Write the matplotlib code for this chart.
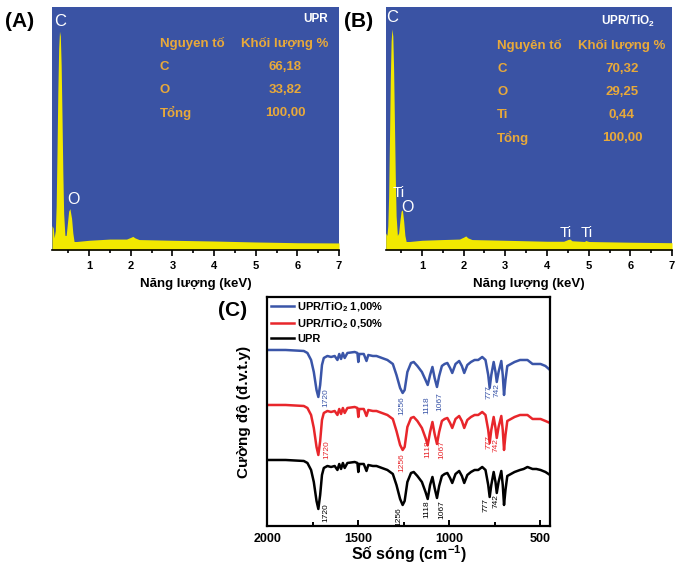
import matplotlib
matplotlib.use("Agg")
import matplotlib.pyplot as plt
from matplotlib.ticker import MultipleLocator

plt.rcParams["font.family"] = ["Liberation Sans", "DejaVu Sans"]
plt.rcParams["mathtext.fontset"] = "custom"
plt.rcParams["mathtext.rm"] = "Liberation Sans"
plt.rcParams["mathtext.bf"] = "Liberation Sans:bold"

# ---------- EDS data (keV, counts in % of full scale) ----------
kev_upr = [0.11, 0.14, 0.16, 0.19, 0.21, 0.23, 0.25, 0.27, 0.29, 0.31, 0.33, 0.35,
           0.37, 0.39, 0.42, 0.45, 0.48, 0.51, 0.54, 0.58, 0.61, 0.64, 0.70, 1.0,
           1.5, 1.9, 2.0, 2.05, 2.1, 2.2, 3.0, 4.0, 5.0, 6.0, 7.0]
cnt_upr = [10, 9, 5, 8, 18, 40, 65, 83, 90, 88, 76, 55,
           32, 15, 6, 6, 11, 16, 17, 13, 7, 3.5, 3.5, 4,
           4.5, 4.5, 5.2, 5.6, 5, 4.3, 4, 3.7, 3.3, 3.0, 2.9]

kev_tio2 = [0.13, 0.16, 0.18, 0.20, 0.22, 0.24, 0.26, 0.28, 0.30, 0.32, 0.34, 0.36,
            0.38, 0.41, 0.44, 0.47, 0.50, 0.53, 0.56, 0.59, 0.62, 0.70, 1.0, 1.5,
            1.9, 2.0, 2.05, 2.1, 2.2, 3.0, 4.0, 4.4, 4.5, 4.55, 4.6, 4.9, 4.93,
            5.0, 6.0, 7.0]
cnt_tio2 = [7, 6, 10, 22, 45, 70, 86, 91, 88, 74, 52, 30,
            14, 6, 7, 12, 16, 16.5, 12, 6, 3.5, 3.5, 4, 4.3,
            4.5, 5.3, 5.8, 5, 4.3, 4, 3.6, 3.6, 4.3, 4.5, 3.8, 3.5, 3.9,
            3.5, 3.2, 3.0]

elements_upr = ["C", "O", "Tổng"]
mass_upr = ["66,18", "33,82", "100,00"]
elements_tio2 = ["C", "O", "Ti", "Tổng"]
mass_tio2 = ["70,32", "29,25", "0,44", "100,00"]

# ---------- FTIR data ----------
wavenumber = [2000, 1900, 1800, 1780, 1760, 1745, 1730, 1720, 1710, 1700,
              1690, 1670, 1650, 1630, 1615, 1605, 1595, 1585, 1575, 1560,
              1520, 1505, 1500, 1495, 1470, 1455, 1445, 1420, 1400, 1370,
              1340, 1310, 1290, 1270, 1256, 1245, 1230, 1210, 1195, 1175,
              1150, 1130, 1118, 1105, 1092, 1080, 1067, 1055, 1040, 1025,
              1010, 995, 983, 965, 945, 930, 917, 900, 880, 860,
              840, 818, 800, 785, 777, 768, 755, 745, 738, 728,
              713, 705, 698, 690, 680, 660, 640, 610, 590, 569,
              555, 541, 520, 497, 470, 445]
ir_tio2_100 = [176, 176, 175, 173, 166, 154, 136, 129, 141, 161,
               168, 170, 169, 170, 166, 172, 167, 173, 168, 173,
               174, 173, 164, 172, 172, 165, 171, 170, 170, 168,
               166, 162, 151, 138, 133, 136, 154, 163, 164, 160,
               154, 146, 141, 151, 159, 148, 139, 150, 160, 162,
               163, 158, 153, 162, 165, 160, 153, 161, 164, 166,
               166, 169, 166, 151, 138, 151, 164, 154, 144, 154,
               165, 151, 131, 146, 160, 162, 164, 166, 166, 166,
               164, 162, 162, 162, 160, 156]
ir_tio2_050 = [121, 121, 120, 118, 111, 98, 79, 71, 85, 106,
               113, 115, 114, 115, 111, 117, 112, 118, 113, 118,
               119, 118, 109, 117, 117, 110, 116, 115, 115, 113,
               111, 107, 95, 81, 76, 79, 99, 108, 109, 105,
               98, 88, 81, 94, 104, 92, 82, 94, 105, 107,
               108, 103, 98, 107, 110, 105, 98, 106, 109, 111,
               111, 114, 111, 96, 83, 96, 109, 98, 88, 99,
               110, 96, 76, 91, 105, 107, 109, 111, 111, 111,
               109, 107, 107, 107, 105, 103]
ir_upr = [66, 66, 65, 63, 56, 44, 25, 17, 31, 51,
          58, 60, 59, 60, 56, 62, 57, 63, 58, 63,
          64, 63, 54, 62, 62, 55, 61, 60, 60, 58,
          56, 52, 41, 27, 21, 25, 44, 53, 54, 50,
          44, 34, 27, 41, 49, 38, 28, 40, 50, 52,
          53, 48, 43, 52, 55, 50, 43, 51, 54, 56,
          56, 59, 56, 41, 29, 41, 54, 44, 33, 44,
          55, 41, 21, 36, 50, 52, 54, 56, 57, 59,
          58, 57, 57, 56, 54, 51]
peak_names = ["1720", "1256", "1118", "1067", "777", "742"]

BG = "#3A53A4"
YEL = "#F2E800"
GOLD = "#E8A93A"

fig = plt.figure(figsize=(6.78, 5.66), dpi=100)


def eds_panel(rect, kev, cnt, xmin, title, header, elements, mass, row_y, x_vals):
    ax = fig.add_axes(rect)
    ax.set_facecolor(BG)
    ax.fill_between(kev, cnt, 0, color=YEL, lw=0)
    ax.set_xlim(xmin, 7)
    ax.set_ylim(0, 100)
    for s in ["left", "top", "right"]:
        ax.spines[s].set_visible(False)
    ax.spines["bottom"].set_linewidth(1.2)
    ax.set_yticks([])
    ax.xaxis.set_major_locator(MultipleLocator(1))
    ax.xaxis.set_minor_locator(MultipleLocator(0.5))
    ax.tick_params(axis="x", which="major", length=4, width=1.2, labelsize=8, pad=4)
    ax.tick_params(axis="x", which="minor", length=2.5, width=1.2)
    for lab in ax.get_xticklabels():
        lab.set_fontweight("bold")
    ax.set_xlabel("Năng lượng (keV)", fontsize=9.5, fontweight="bold", labelpad=5)
    ax.text(x_vals[2], row_y[0] + 0.1, title, transform=ax.transAxes, color="white",
            fontsize=8.5, fontweight="bold", ha="right", va="center")
    ax.text(x_vals[0], row_y[1], header, transform=ax.transAxes, color=GOLD,
            fontsize=9.5, fontweight="bold", ha="left", va="center")
    ax.text(x_vals[1], row_y[1], "Khối lượng %", transform=ax.transAxes, color=GOLD,
            fontsize=9.5, fontweight="bold", ha="center", va="center")
    for i, (el, m) in enumerate(zip(elements, mass)):
        y = row_y[1] - (i + 1) * row_y[2]
        ax.text(x_vals[0], y, el, transform=ax.transAxes, color=GOLD,
                fontsize=9.5, fontweight="bold", ha="left", va="center")
        ax.text(x_vals[1], y, m, transform=ax.transAxes, color=GOLD,
                fontsize=9.5, fontweight="bold", ha="center", va="center")
    return ax


# ---------- (A) ----------
axA = eds_panel([0.0767, 0.5583, 0.4233, 0.4293], kev_upr, cnt_upr, 0.11, "UPR",
                "Nguyen tố", elements_upr, mass_upr, (0.85, 0.848, 0.095), (0.376, 0.812, 0.962))
axA.text(0.30, 94, "C", color="white", fontsize=12, ha="center", va="center")
axA.text(0.63, 20.6, "O", color="white", fontsize=11.5, ha="center", va="center")

# ---------- (B) ----------
axB = eds_panel([0.5689, 0.5583, 0.4223, 0.4293], kev_tio2, cnt_tio2, 0.13, r"UPR/TiO$_\mathbf{2}$",
                "Nguyên tố", elements_tio2, mass_tio2, (0.842, 0.840, 0.095), (0.389, 0.825, 0.94))
axB.text(0.28, 95.5, "C", color="white", fontsize=12, ha="center", va="center")
axB.text(0.45, 23.3, "Ti", color="white", fontsize=11, ha="center", va="center")
axB.text(0.66, 17.3, "O", color="white", fontsize=11.5, ha="center", va="center")
axB.text(4.46, 7.0, "Ti", color="white", fontsize=11, ha="center", va="center")
axB.text(4.95, 7.0, "Ti", color="white", fontsize=11, ha="center", va="center")

fig.text(0.008, 0.962, "(A)", fontsize=15, fontweight="bold", va="center")
fig.text(0.507, 0.962, "(B)", fontsize=15, fontweight="bold", va="center")
fig.text(0.322, 0.452, "(C)", fontsize=15, fontweight="bold", va="center")

# ---------- (C) FTIR ----------
axC = fig.add_axes([0.3945, 0.0707, 0.4167, 0.4046])
series = [
    (ir_tio2_100, "#3A55A8", r"UPR/TiO$_\mathbf{2}$ 1,00%",
     [(1677, 138), (1258, 130), (1122, 130), (1049, 134), (781, 141), (738, 143)]),
    (ir_tio2_050, "#E8262B", r"UPR/TiO$_\mathbf{2}$ 0,50%",
     [(1673, 86), (1258, 73), (1117, 86), (1043, 86), (781, 91), (740, 88)]),
    (ir_upr, "black", "UPR",
     [(1680, 23), (1276, 19), (1122, 26), (1043, 26), (795, 28), (744, 32)]),
]
for vals, col, lab, pos in series:
    axC.plot(wavenumber, vals, color=col, lw=1.8, label=lab)
    for name, (x, y) in zip(peak_names, pos):
        axC.text(x, y, name, rotation=90, color=col, fontsize=6, ha="center", va="top")

axC.set_xlim(2000, 445)
axC.set_ylim(0, 229)
axC.set_yticks([])
axC.xaxis.set_major_locator(MultipleLocator(500))
axC.xaxis.set_minor_locator(MultipleLocator(250))
axC.tick_params(axis="x", which="both", direction="in", width=1.4, labelsize=9, pad=5)
axC.tick_params(axis="x", which="major", length=4)
axC.tick_params(axis="x", which="minor", length=3)
for lab in axC.get_xticklabels():
    lab.set_fontweight("bold")
for s in axC.spines.values():
    s.set_linewidth(1.6)
axC.set_xlabel(r"Số sóng (cm$^{\mathbf{-1}}$)", fontsize=11.5, fontweight="bold", labelpad=-1)
axC.set_ylabel("Cường độ (đ.v.t.y)", fontsize=11, fontweight="bold", labelpad=12)
leg = axC.legend(loc="upper left", frameon=False, prop={"weight": "bold", "size": 8},
                 handlelength=2.1, handletextpad=0.3, labelspacing=0.3,
                 borderaxespad=0.1, borderpad=0.2)

fig.savefig("out.png", dpi=100)
